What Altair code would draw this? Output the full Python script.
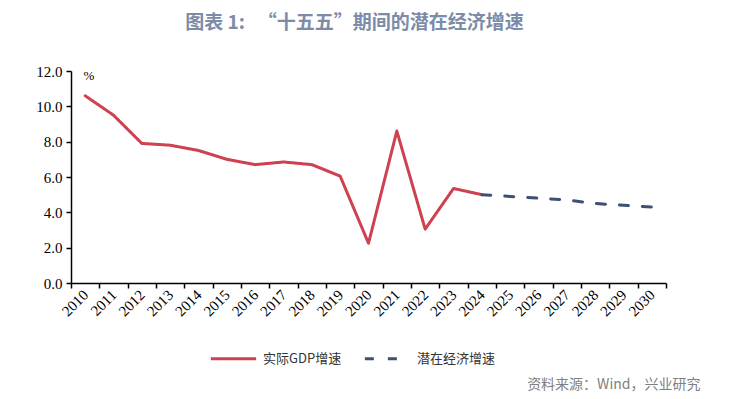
import altair as alt
import pandas as pd

all_years = ["2010", "2011", "2012", "2013", "2014", "2015", "2016", "2017", "2018", "2019",
             "2020", "2021", "2022", "2023", "2024", "2025", "2026", "2027", "2028", "2029", "2030"]
years_actual = ["2010", "2011", "2012", "2013", "2014", "2015", "2016", "2017", "2018", "2019",
                "2020", "2021", "2022", "2023", "2024"]
gdp_actual = [10.6, 9.5, 7.9, 7.8, 7.5, 7.0, 6.7, 6.85, 6.7, 6.05, 2.25, 8.6, 3.05, 5.35, 5.0]
years_potential = ["2024", "2025", "2026", "2027", "2028", "2029", "2030"]
gdp_potential = [5.0, 4.9, 4.8, 4.7, 4.5, 4.4, 4.3]
series_names = ["实际GDP增速", "潜在经济增速"]
y_ticks = [0, 2, 4, 6, 8, 10, 12]

RED = "#cf4051"
BLUE = "#3d4f72"

df = pd.DataFrame({
    "year": years_actual + years_potential,
    "value": gdp_actual + gdp_potential,
    "series": [series_names[0]] * len(years_actual) + [series_names[1]] * len(years_potential),
})

serif = "Liberation Serif"
cjk = "Noto Sans CJK SC"

legend_cfg = dict(
    title=None, orient="none", legendX=138, legendY=263, direction="horizontal",
    symbolType="stroke", symbolSize=2050, symbolStrokeWidth=3,
    labelFont=cjk, labelFontSize=13, labelColor="#333333", labelOffset=5,
    columnPadding=16,
)

chart = alt.Chart(df).mark_line(strokeWidth=3, strokeCap="round", strokeJoin="round").encode(
    x=alt.X(
        "year:O",
        bandPosition=0.5,
        scale=alt.Scale(type="band", domain=all_years, paddingInner=0, paddingOuter=0),
        axis=alt.Axis(
            title="资料来源：Wind，兴业研究",
            titleFont=cjk, titleFontSize=14, titleFontWeight="normal", titleColor="#808080",
            titleAnchor="start", titleAlign="right", titleBaseline="bottom",
            titleX=629, titleY=108, titleAngle=0,
            labelAngle=-45, labelAlign="right", labelBaseline="middle",
            labelFont=serif, labelFontSize=15, labelColor="#000000", labelPadding=4,
            tickBand="extent", tickSize=5, tickColor="#000000", domainColor="#000000",
            domainWidth=1.5, tickWidth=1.5, grid=False,
        ),
    ),
    y=alt.Y(
        "value:Q",
        scale=alt.Scale(domain=[0, 12], nice=False, zero=True),
        axis=alt.Axis(
            values=y_ticks, format=".1f", title="%",
            titleAngle=0, titleX=12, titleY=-2, titleAlign="left", titleBaseline="top",
            titleFont=serif, titleFontSize=13, titleFontWeight="normal", titleColor="#000000",
            labelFont=serif, labelFontSize=15, labelColor="#000000", labelPadding=4,
            tickSize=5, tickColor="#000000", domainColor="#000000",
            domainWidth=1.5, tickWidth=1.5, grid=False,
        ),
    ),
    color=alt.Color(
        "series:N",
        scale=alt.Scale(domain=series_names, range=[RED, BLUE]),
        legend=alt.Legend(**legend_cfg),
    ),
    strokeDash=alt.StrokeDash(
        "series:N",
        scale=alt.Scale(domain=series_names, range=[[1, 0], [9, 14]]),
        legend=alt.Legend(**legend_cfg),
    ),
).properties(
    width=595,
    height=212,
    autosize="none",
    padding={"left": 63, "top": 63, "right": 60, "bottom": 110},
    title=alt.Title(
        text="图表 1:\u00a0\u00a0\u00a0“十五五”期间的潜在经济增速",
        font=cjk, fontSize=19, fontWeight="bold", color="#7b8ba8",
        anchor="middle", frame="group", offset=31, dx=-14,
    ),
).configure_view(stroke=None)

chart.save("out.html", embed_options={"renderer": "svg", "actions": False})
